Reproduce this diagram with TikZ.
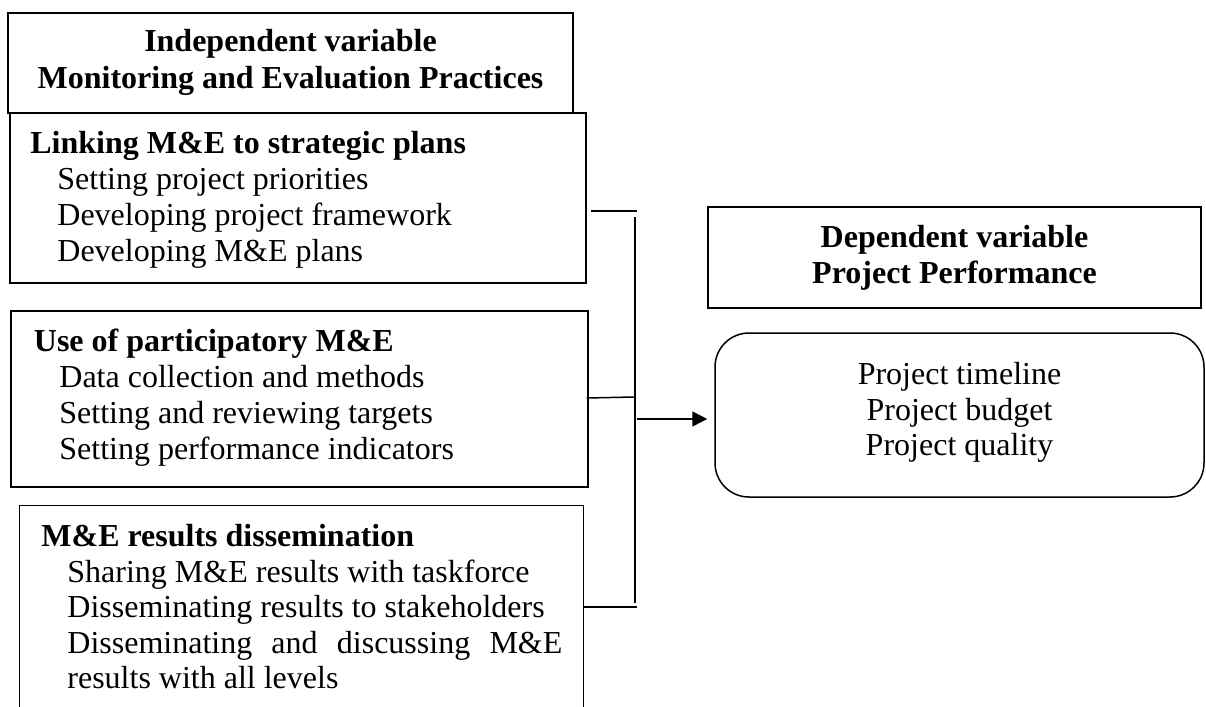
\documentclass[tikz,border=0pt]{standalone}
\usepackage{fontspec}
\setmainfont{Liberation Serif}
\usetikzlibrary{arrows.meta}
\begin{document}
\begin{tikzpicture}[x=0.5pt,y=-0.5pt,
  box/.style={draw,line width=0.75pt,inner sep=0pt},
  txt/.style={anchor=base west,inner sep=0pt,font=\fontsize{16pt}{18pt}\selectfont},
  ctxt/.style={anchor=base,inner sep=0pt,font=\fontsize{16pt}{18pt}\selectfont},
  link/.style={line width=0.75pt}]
\useasboundingbox (0,0) rectangle (1206,707);
\fill[white] (0,0) rectangle (1206,707);
% boxes
\node[box,minimum width=282.5pt,minimum height=50pt] (b1) at (290.5,63) {};
\node[box,minimum width=288pt,minimum height=85pt] (b2) at (298,198) {};
\node[box,minimum width=288.5pt,minimum height=88pt] (b3) at (299.5,399) {};
\node[inner sep=0pt,minimum width=281.5pt,minimum height=110pt] (b4) at (301.5,616) {};
\draw[link] (b4.south west) -- (b4.north west) -- (b4.north east) -- (b4.south east);
\node[box,minimum width=246.5pt,minimum height=50.5pt] (dep) at (954.5,257.5) {};
\node[box,rounded corners=17pt,minimum width=244.5pt,minimum height=82pt] (out) at (959.5,415) {};
% texts
\node[ctxt] (t1a) at (290.5,51) {\textbf{Independent variable}};
\node[ctxt] (t1b) at (290.5,88) {\textbf{Monitoring and Evaluation Practices}};
\node[txt] (t2a) at (30,153) {\textbf{Linking M\&E to strategic plans}};
\node[txt] (t2b) at (57,189) {Setting project priorities};
\node[txt] (t2c) at (57,225) {Developing project framework};
\node[txt] (t2d) at (57,261) {Developing M\&E plans};
\node[txt] (t3a) at (33.5,351) {\textbf{Use of participatory M\&E}};
\node[txt] (t3b) at (59,387) {Data collection and methods};
\node[txt] (t3c) at (59,423) {Setting and reviewing targets};
\node[txt] (t3d) at (59,459) {Setting performance indicators};
\node[txt] (t4a) at (41,546.5) {\textbf{M\&E results dissemination}};
\node[txt] (t4b) at (67,582) {Sharing M\&E results with taskforce};
\node[txt] (t4c) at (67,617.5) {Disseminating results to stakeholders};
\node[txt] (t4d) at (67,653) {\hbox to 247.5pt{Disseminating\hfill and\hfill discussing\hfill M\&E}};
\node[txt] (t4e) at (67,688) {results with all levels};
\node[ctxt] (t5a) at (954.5,247) {\textbf{Dependent variable}};
\node[ctxt] (t5b) at (954.5,283) {\textbf{Project Performance}};
\node[ctxt] (t6a) at (959.5,384) {Project timeline};
\node[ctxt] (t6b) at (959.5,420) {Project budget};
\node[ctxt] (t6c) at (959.5,455) {Project quality};
% connectors
\coordinate (j1) at (637,211);
\coordinate (j2) at (634,397);
\coordinate (j3) at (637,607);
\coordinate (vtop) at (635,217);
\coordinate (vbot) at (635,603);
\coordinate (a0) at (637,419);
\coordinate (a1) at ([xshift=-3.5pt]out.west);
\draw[link] ([shift={(4,13)}]b2.east) -- (j1);
\draw[link] ([shift={(-2,-1)}]b3.east) -- (j2);
\draw[link] ([shift={(0,-9)}]b4.east) -- (j3);
\draw[link] (vtop) -- (vbot);
\draw[link,-{Triangle[length=7.5pt,width=7.5pt]}] (a0) -- (a1 |- a0);
\end{tikzpicture}
\end{document}
